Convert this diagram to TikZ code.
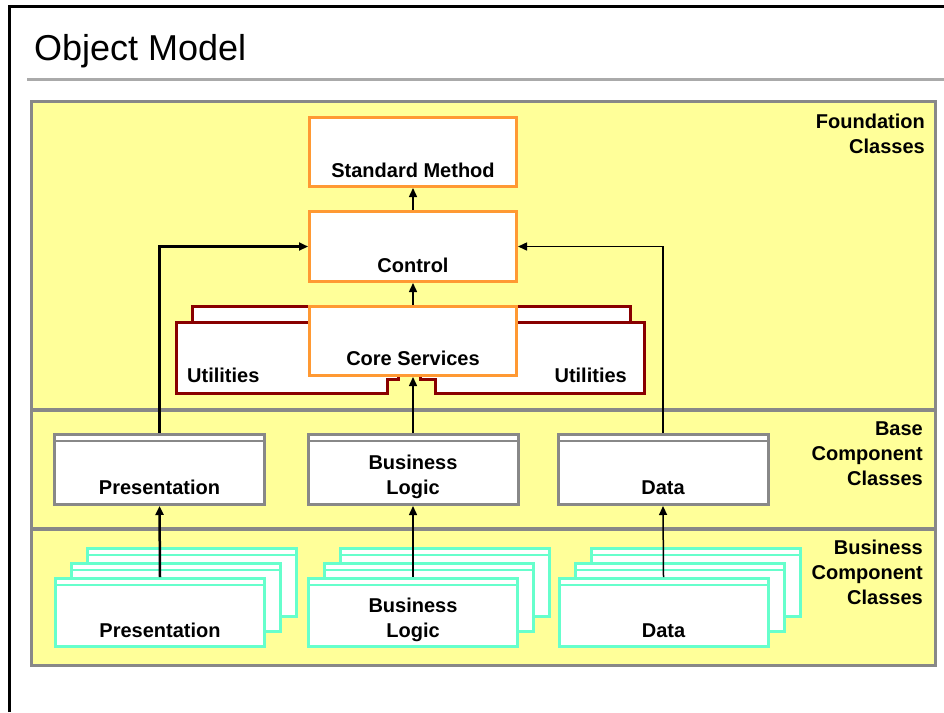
\documentclass[tikz,border=0pt]{standalone}
\usepackage{fontspec}
\setmainfont{Liberation Sans}
\usetikzlibrary{arrows.meta}
\definecolor{pad}{HTML}{FFFF99}
\definecolor{frame}{HTML}{888888}
\definecolor{rulegray}{HTML}{AAAAAA}
\definecolor{corecol}{HTML}{FF9933}
\definecolor{utilcol}{HTML}{880000}
\definecolor{compcol}{HTML}{66FFCC}
\begin{document}
\begin{tikzpicture}[x=1pt,y=-1pt,
box/.style={draw,fill=white,line width=3pt,minimum width=207pt,minimum height=69pt,inner sep=0pt},
found/.style={box,draw=corecol},
stripe/.style={path picture={\draw[#1,line width=2pt]([yshift=-6pt]path picture bounding box.north west)--([yshift=-6pt]path picture bounding box.north east);}},
basebox/.style={box,draw=frame,minimum width=210pt,minimum height=70pt,stripe=frame},
bizbox/.style={box,draw=compcol,minimum width=209pt,minimum height=68pt,stripe=compcol},
utilbox/.style={draw=utilcol,fill=white,line width=3pt},
lbl/.style={font=\fontsize{20}{25}\selectfont\bfseries,align=center,inner sep=0pt},
side/.style={lbl,align=right,anchor=base east},
arr/.style={-{Triangle[length=9pt,width=8pt]},line width=1.5pt}]
\useasboundingbox(0,0)rectangle(944,712);
\draw[line width=3pt](9.5,712)--(9.5,6.5)--(944,6.5);
\node[anchor=base west,inner sep=0pt,font=\fontsize{36}{40}\selectfont](title)at(34,60){Object Model};
\draw[rulegray,line width=3.5pt](27,79.5)--(944,79.5);
\draw[frame,fill=pad,line width=3pt](31.5,101.5)rectangle(935,665);
\draw[frame,line width=4pt](31.5,410)--(935,410);
\draw[frame,line width=4pt](31.5,529)--(935,529);
\node[side](found)at(925,153){Foundation\\Classes};
\node[side](basecc)at(923,485){Base\\Component\\Classes};
\node[side](bizcc)at(923,604){Business\\Component\\Classes};
\draw[utilbox](192,322)rectangle(330,306);
\draw[utilbox](176,322)--(176,393)--(387,393)--(387,379)--(398,379)--(398,322)--cycle;
\draw[utilbox](496,306)rectangle(630,322);
\draw[utilbox](644,322)--(644,393)--(435,393)--(435,379)--(420,379)--(420,322)--cycle;
\node[lbl,anchor=base west](utl)at(187,382){Utilities};
\node[lbl,anchor=base east](utr)at(627,382){Utilities};
\node[found](sm)at(413,152){};
\node[found,minimum height=70pt](ctl)at(413,246.5){};
\node[found](core)at(413,341){};
\node[lbl,anchor=base]at([yshift=11pt]sm.south){Standard Method};
\node[lbl,anchor=base]at([yshift=11pt]ctl.south){Control};
\node[lbl,anchor=base]at([yshift=12pt]core.south){Core Services};
\foreach\n/\x/\t in{bpres/159.5/Presentation,bbl/413/{Business\\Logic},bdata/663/Data}{
\node[basebox](\n)at(\x,469.5){};
\node[lbl,anchor=base]at([yshift=12pt]\n.south){\t};}
\foreach\n/\x/\t in{cpres/160/Presentation,cbl/413/{Business\\Logic},cdata/663.5/Data}{
\foreach\d in{2,1}\node[bizbox]at(\x+16*\d,612.5-15*\d){};
\node[bizbox](\n)at(\x,612.5){};
\node[lbl,anchor=base]at([yshift=11pt]\n.south){\t};}
\draw[arr](ctl.north)--(sm.south);
\draw[arr](core.north)--(ctl.south);
\draw[arr](bbl.north)--(core.south);
\draw[arr,line width=2.2pt](bpres.north)|-(ctl.west);
\draw[arr](bdata.north)|-(ctl.east);
\draw[arr,line width=2.5pt](cpres.north)--(bpres.south);
\draw[arr](cbl.north)--(bbl.south);
\draw[arr](cdata.north)--(bdata.south);
\end{tikzpicture}
\end{document}
